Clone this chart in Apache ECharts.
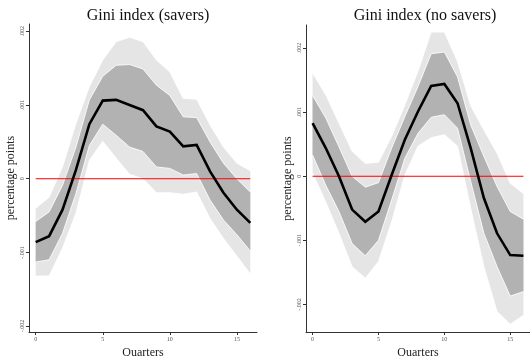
<!DOCTYPE html>
<html>
<head>
<meta charset="utf-8">
<script src="https://cdn.jsdelivr.net/npm/echarts@6/dist/echarts.min.js"></script>
<style>
  html, body { margin: 0; padding: 0; background: #fff; }
  #chart { width: 530px; height: 356px; }
</style>
</head>
<body>
<div id="chart"></div>
<script>
// quarters 0..16
const quarters = [0, 1, 2, 3, 4, 5, 6, 7, 8, 9, 10, 11, 12, 13, 14, 15, 16];
const xTicks = [0, 5, 10, 15];
const yTicks = [-0.002, -0.001, 0, 0.001, 0.002];

// Gini index (savers)
const saversMean = [-0.00086, -0.00078, -0.00042, 0.00012, 0.00074, 0.00106, 0.00107, 0.0010, 0.00093, 0.00071, 0.00064, 0.00044, 0.00046, 0.0001, -0.00019, -0.00042, -0.0006];
const saversDarkHi = [-0.00058, -0.00045, -0.00009, 0.00043, 0.00107, 0.00139, 0.00154, 0.00155, 0.00149, 0.00127, 0.00113, 0.00084, 0.00083, 0.0005, 0.00021, 0.0, -0.00018];
const saversDarkLo = [-0.00113, -0.0011, -0.00074, -0.0002, 0.00045, 0.00074, 0.00059, 0.00043, 0.00037, 0.00016, 0.00014, 0.00005, 0.00007, -0.00029, -0.00056, -0.00076, -0.00098];
const saversLightHi = [-0.0004, -0.00025, 0.00016, 0.00075, 0.00125, 0.00161, 0.00186, 0.00192, 0.00186, 0.00161, 0.00145, 0.00109, 0.00108, 0.00073, 0.00043, 0.00021, 0.00011];
const saversLightLo = [-0.00132, -0.00132, -0.00094, -0.00047, 0.00025, 0.00051, 0.00028, 0.00006, 0.0, -0.00019, -0.00019, -0.00021, -0.00018, -0.00054, -0.00081, -0.00105, -0.00129];

// Gini index (no savers)
const noSaversMean = [0.00083, 0.00044, 0.0, -0.00052, -0.00071, -0.00055, 0.00002, 0.00057, 0.00101, 0.00141, 0.00144, 0.00114, 0.00044, -0.00034, -0.00089, -0.00123, -0.00124];
const noSaversDarkHi = [0.00126, 0.00091, 0.00046, 0.0, -0.00017, -0.0001, 0.00044, 0.00093, 0.0014, 0.00191, 0.00194, 0.00155, 0.0008, 0.00031, -0.00016, -0.00055, -0.00067];
const noSaversDarkLo = [0.00033, -0.00014, -0.00055, -0.00105, -0.00124, -0.001, -0.00037, 0.00028, 0.00067, 0.00092, 0.00096, 0.00075, -0.00008, -0.00089, -0.00141, -0.00187, -0.0018];
const noSaversLightHi = [0.00161, 0.00127, 0.00083, 0.00039, 0.0002, 0.00022, 0.00062, 0.00111, 0.00164, 0.00225, 0.00225, 0.00179, 0.0011, 0.00072, 0.00036, -0.00011, -0.00027];
const noSaversLightLo = [0.00005, -0.0004, -0.00089, -0.00141, -0.00159, -0.00133, -0.00071, 0.00002, 0.00047, 0.0006, 0.00065, 0.00047, -0.0005, -0.00141, -0.00211, -0.00231, -0.00217];

const FONT = "Liberation Serif";

function fmtTick(v) {
  if (Math.abs(v) < 1e-9) return "0";
  const s = Math.abs(v).toFixed(3).replace(/^0/, "");
  return (v < 0 ? "-" : "") + s;
}

function pairs(arr) {
  return quarters.map((q, i) => [q, arr[i]]);
}

// confidence band as one polygon, points placed with the axis scales (api.coord)
function bandSeries(idx, lo, hi, color) {
  return {
    type: "custom",
    xAxisIndex: idx,
    yAxisIndex: idx,
    silent: true,
    z: 1,
    data: quarters.map((q, i) => [q, lo[i], hi[i]]),
    encode: { x: 0, y: [1, 2] },
    renderItem: function (params, api) {
      if (params.dataIndex !== 0) return null;
      const top = quarters.map((q, i) => api.coord([q, hi[i]]));
      const bot = quarters.map((q, i) => api.coord([q, lo[i]])).reverse();
      return {
        type: "group",
        children: [
          {
            type: "polygon",
            shape: { points: top.concat(bot) },
            style: { fill: color, stroke: null },
          },
          {
            type: "polyline",
            shape: { points: top },
            style: { fill: null, stroke: "rgba(255,255,255,0.85)", lineWidth: 1 },
          },
          {
            type: "polyline",
            shape: { points: bot },
            style: { fill: null, stroke: "rgba(255,255,255,0.85)", lineWidth: 1 },
          },
        ],
      };
    },
  };
}

function panelSeries(idx, mean, dHi, dLo, lHi, lLo) {
  return [
    bandSeries(idx, lLo, lHi, "#e5e5e5"),
    bandSeries(idx, dLo, dHi, "#b2b2b2"),
    {
      type: "line",
      xAxisIndex: idx,
      yAxisIndex: idx,
      data: [[quarters[0], 0], [quarters[quarters.length - 1], 0]],
      symbol: "none",
      silent: true,
      lineStyle: { color: "#ff0000", width: 1 },
      z: 3,
    },
    {
      type: "line",
      xAxisIndex: idx,
      yAxisIndex: idx,
      data: pairs(mean),
      symbol: "none",
      silent: true,
      lineStyle: { color: "#000", width: 2.6, join: "miter" },
      z: 4,
    },
  ];
}

function xAxisCfg(idx) {
  return {
    type: "value",
    gridIndex: idx,
    min: -0.5,
    max: 16.5,
    name: "Quarters",
    nameLocation: "middle",
    nameGap: 14,
    nameTextStyle: { fontFamily: FONT, fontSize: 12, color: "#222" },
    splitLine: { show: false },
    axisLine: { onZero: false, lineStyle: { color: "#333", width: 1 } },
    axisTick: { show: true, length: 3, customValues: xTicks, lineStyle: { color: "#333" } },
    axisLabel: { customValues: xTicks, fontFamily: FONT, fontSize: 6, color: "#555", margin: 4 },
  };
}

function yAxisCfg(idx, min, max) {
  return {
    type: "value",
    gridIndex: idx,
    min: min,
    max: max,
    name: "percentage points",
    nameLocation: "middle",
    nameRotate: 90,
    nameGap: 12,
    nameTextStyle: { fontFamily: FONT, fontSize: 12, color: "#222" },
    splitLine: { show: false },
    axisLine: { onZero: false, lineStyle: { color: "#333", width: 1 } },
    axisTick: { show: true, length: 3, customValues: yTicks, lineStyle: { color: "#333" } },
    axisLabel: {
      customValues: yTicks,
      rotate: 90,
      fontFamily: FONT,
      fontSize: 6,
      color: "#555",
      margin: 4,
      formatter: fmtTick,
    },
  };
}

const chart = echarts.init(document.getElementById("chart"), null, { renderer: "canvas" });
chart.setOption({
  animation: false,
  backgroundColor: "#fff",
  title: [
    {
      text: "Gini index (savers)",
      left: 143,
      top: 3,
      textAlign: "center",
      textStyle: { fontFamily: FONT, fontSize: 16, fontWeight: "normal", color: "#111" },
    },
    {
      text: "Gini index (no savers)",
      left: 420,
      top: 3,
      textAlign: "center",
      textStyle: { fontFamily: FONT, fontSize: 16, fontWeight: "normal", color: "#111" },
    },
  ],
  grid: [
    { left: 29, top: 24, width: 228, height: 308, outerBoundsMode: "none", containLabel: false },
    { left: 306, top: 25, width: 224, height: 307, outerBoundsMode: "none", containLabel: false },
  ],
  xAxis: [xAxisCfg(0), xAxisCfg(1)],
  yAxis: [yAxisCfg(0, -0.00208, 0.0021), yAxisCfg(1, -0.00243, 0.00236)],
  series: [
    ...panelSeries(0, saversMean, saversDarkHi, saversDarkLo, saversLightHi, saversLightLo),
    ...panelSeries(1, noSaversMean, noSaversDarkHi, noSaversDarkLo, noSaversLightHi, noSaversLightLo),
  ],
});
</script>
</body>
</html>
